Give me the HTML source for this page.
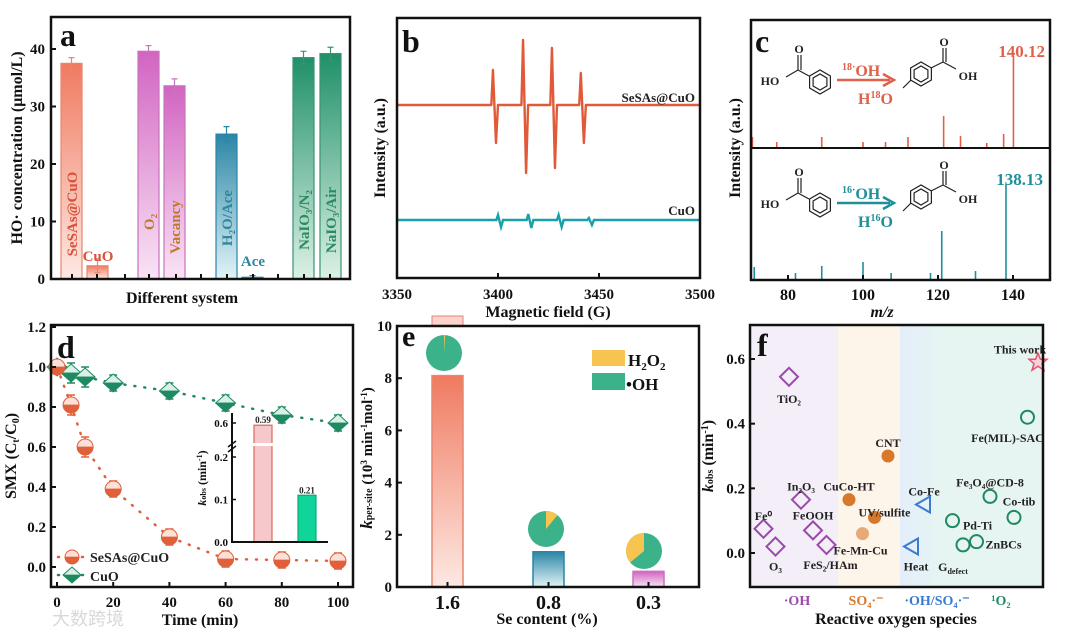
<!DOCTYPE html>
<html><head><meta charset="utf-8"><style>
html,body{margin:0;padding:0;background:#fff;}
svg{display:block;font-family:"Liberation Serif","Noto Serif CJK SC",serif;font-weight:bold;}
</style></head><body>
<svg id="fig" width="1067" height="639" viewBox="0 0 1067 639" xmlns="http://www.w3.org/2000/svg">
<defs>
<linearGradient id="gRed" x1="0" y1="0" x2="0" y2="1"><stop offset="0" stop-color="#f07a60"/><stop offset="1" stop-color="#fde9e3"/></linearGradient>
<linearGradient id="gPur" x1="0" y1="0" x2="0" y2="1"><stop offset="0" stop-color="#d264c2"/><stop offset="1" stop-color="#f9e4f4"/></linearGradient>
<linearGradient id="gTeal" x1="0" y1="0" x2="0" y2="1"><stop offset="0" stop-color="#2a86a6"/><stop offset="1" stop-color="#e2f3f7"/></linearGradient>
<linearGradient id="gGrn" x1="0" y1="0" x2="0" y2="1"><stop offset="0" stop-color="#1f9068"/><stop offset="1" stop-color="#dcf1e6"/></linearGradient>
<linearGradient id="gRedM" x1="0" y1="0" x2="0" y2="1"><stop offset="0.45" stop-color="#fde0d8"/><stop offset="0.5" stop-color="#e0603a"/></linearGradient>
<linearGradient id="gGrnM" x1="0" y1="0" x2="0" y2="1"><stop offset="0.45" stop-color="#d8f0e6"/><stop offset="0.5" stop-color="#1f8a62"/></linearGradient>
<linearGradient id="gBlueF" x1="0" y1="0" x2="1" y2="0"><stop offset="0" stop-color="#e4eefa"/><stop offset="1" stop-color="#e6f5f1"/></linearGradient>
</defs>
<g id="root"></g>
</svg>
<script>
// ---------- Panel a data ----------
const aCats = ['SeSAs@CuO','CuO','O2','Vacancy','H2O/Ace','Ace','NaIO3/N2','NaIO3/Air'];
const aVals = [37.5, 2.3, 39.6, 33.6, 25.2, 0.3, 38.5, 39.2];
const aErrs = [1.0, 1.2, 1.0, 1.2, 1.3, 0.3, 1.1, 1.1];
const aTicks = [0, 10, 20, 30, 40];
// ---------- Panel b data ----------
const bPeaksRed = [3397.5, 3412.4, 3426.7, 3441.0];
const bUpRed = [35, 65, 57, 32];
const bDownRed = [-38, -68, -63, -38];
const bPeaksCyan = [3400, 3415, 3430, 3445];
const bUpCyan = [5, 6, 5, 2];
const bDownCyan = [-7, -8, -7, -5];
const bTicks = [3350, 3400, 3450, 3500];
// ---------- Panel c data ----------
const cTopMz = [70.5, 77, 89, 100, 106, 112, 121.5, 126, 133, 137.5, 140.12];
const cTopI = [10, 5, 10, 5, 5, 10, 31, 11, 4, 13, 91];
const cBotMz = [71, 82, 89, 100, 107.5, 118, 121, 130, 138.13];
const cBotI = [13, 7, 14, 18, 7, 7, 49, 9, 96];
const cTicks = [80, 100, 120, 140];
// ---------- Panel d data ----------
const dTime = [0, 5, 10, 20, 40, 60, 80, 100];
const dSeSAs = [1.0, 0.81, 0.60, 0.39, 0.15, 0.04, 0.035, 0.03];
const dCuO = [1.0, 0.97, 0.95, 0.92, 0.88, 0.82, 0.76, 0.72];
const dErr = [0.02, 0.05, 0.05, 0.04, 0.04, 0.04, 0.04, 0.04];
const dYTicks = [0, 0.2, 0.4, 0.6, 0.8, 1.0, 1.2];
const dXTicks = [0, 20, 40, 60, 80, 100];
const insetVals = [0.59, 0.11];
const insetLabels = ['0.59', '0.21'];
// ---------- Panel e data ----------
const eCats = ['1.6', '0.8', '0.3'];
const eVals = [8.1, 1.35, 0.6];
const eH2O2 = [0.01, 0.11, 0.36];
const eTicks = [0, 2, 4, 6, 8, 10];
// ---------- Panel f data ----------
const fNames = ['TiO2','In2O3','Fe0','O3','FeOOH','FeS2/HAm','CuCo-HT','CNT','UV/sulfite','Fe-Mn-Cu','Co-Fe','Heat','Pd-Ti','Gdefect','ZnBCs','Fe3O4@CD-8','Co-tib','Fe(MIL)-SAC','This work'];
const fPos = [1.3, 1.7, 0.45, 0.85, 2.1, 2.55, 3.3, 4.6, 4.15, 3.75, 5.8, 5.4, 6.75, 7.1, 7.55, 8.0, 8.8, 9.25, 9.6];
const fK = [0.545, 0.165, 0.075, 0.02, 0.07, 0.025, 0.165, 0.30, 0.11, 0.06, 0.15, 0.02, 0.10, 0.025, 0.035, 0.175, 0.11, 0.42, 0.59];
const fType = ['d','d','d','d','d','d','o','o','o','o','t','t','c','c','c','c','c','c','s'];
const fYTicks = [0.0, 0.2, 0.4, 0.6];

const NS = 'http://www.w3.org/2000/svg';
const root = document.getElementById('root');
function el(tag, attrs, parent){ const e=document.createElementNS(NS,tag); for(const k in attrs) e.setAttribute(k,attrs[k]); (parent||root).appendChild(e); return e; }
function txt(s, x, y, size, fill, anchor, parent, extra){ const t=el('text',Object.assign({x:x,y:y,'font-size':size,fill:fill||'#111','text-anchor':anchor||'middle'},extra||{}),parent); t.textContent=s; return t; }

// ================= Panel a =================
const ga = el('g',{});


const aX0=51, aX1=350, aYt=17, aYb=279;
const aY = v => 279 - v*5.75;
const aBarX = [61, 87, 138, 164, 216, 242, 293, 320];
const aFill = ['url(#gRed)','url(#gRed)','url(#gPur)','url(#gPur)','url(#gTeal)','url(#gTeal)','url(#gGrn)','url(#gGrn)'];
const aStroke = ['#e8866e','#e8866e','#c873bd','#c873bd','#2a86a6','#2a86a6','#3a9470','#3a9470'];
aVals.forEach((v,i)=>{
  const r = el('rect',{x:aBarX[i],y:aY(v),width:21,height:aY(0)-aY(v),fill:aFill[i],stroke:aStroke[i],'stroke-width':1.2},ga);
  
  
  const cx=aBarX[i]+10.5;
  const eb = el('path',{d:`M${cx} ${aY(v+aErrs[i])}V${aY(v-aErrs[i])}M${cx-3} ${aY(v+aErrs[i])}H${cx+3}M${cx-3} ${aY(v-aErrs[i])}H${cx+3}`,stroke:aStroke[i],'stroke-width':1.2,fill:'none'},ga);
  
  
});
const aBox = el('rect',{x:aX0,y:aYt,width:aX1-aX0,height:aYb-aYt,fill:'none',stroke:'#111','stroke-width':2.5},ga);


aTicks.forEach(t=>{
  const l=el('line',{x1:aX0,x2:aX0+5,y1:aY(t),y2:aY(t),stroke:'#111','stroke-width':2},ga);
  
  
  const tl=txt(String(t),45,aY(t)+5,15,'#111','end',ga);
  
  
});
[72,97,125,149,176,201,227,253,278,304,330].forEach(x=>{ el('line',{x1:x,x2:x,y1:aYb,y2:aYb-5,stroke:'#111','stroke-width':2},ga); });
const aInLab=[['SeSAs@CuO',72,214,'#d8513a',true],['CuO',98,261,'#d8513a',false],['O₂',149,222,'#c0782c',true],['Vacancy',175,227,'#c0782c',true],['H₂O/Ace',227,218,'#2e86a0',true],['Ace',253,266,'#2e86a0',false],['NaIO₃/N₂',304,220,'#2a8a60',true],['NaIO₃/Air',331,220,'#2a8a60',true]];
aInLab.forEach(L=>{
  const t = L[4] ? txt(L[0],0,0,15,L[3],'middle',ga,{transform:`translate(${L[1]+5},${L[2]}) rotate(-90)`}) : txt(L[0],L[1],L[2],15,L[3],'middle',ga);
  
  
});
const aLetter=txt('a',60,46,32,'#111','start',ga);  
const aYT=txt('HO· concentration (μmol/L)',0,0,16,'#111','middle',ga,{transform:'translate(22,148) rotate(-90)'});
 
const aXT=txt('Different system',182,303,16,'#111','middle',ga);
 

// ================= Panel b =================
const gb = el('g',{});


const bX = f => 397 + (f-3350)*303/150;
function eprPath(peaks, ups, downs, base){
  let d=`M${bX(3350)} ${base}`;
  peaks.forEach((p,i)=>{
    d+=`L${bX(p-0.8)} ${base}L${bX(p)} ${base-ups[i]}L${bX(p+1.5)} ${base-downs[i]}L${bX(p+2.5)} ${base}`;
  });
  d+=`L${bX(3500)} ${base}`;
  return d;
}
const bRed=el('path',{d:eprPath(bPeaksRed,bUpRed,bDownRed,105),stroke:'#e05a3a','stroke-width':2.4,fill:'none','stroke-linejoin':'round'},gb);
 
const bCy=el('path',{d:eprPath(bPeaksCyan,bUpCyan,bDownCyan,220),stroke:'#1aa0a8','stroke-width':2.4,fill:'none'},gb);
 
const bBox=el('rect',{x:397,y:18,width:303,height:260,fill:'none',stroke:'#111','stroke-width':2.5},gb);
 
bTicks.forEach(t=>{
  el('line',{x1:bX(t),x2:bX(t),y1:278,y2:273,stroke:'#111','stroke-width':2},gb);
  const tl=txt(String(t),bX(t),299,15,'#111','middle',gb);
   
});
const bl1=txt('SeSAs@CuO',695,102,13,'#222','end',gb);  
const bl2=txt('CuO',695,215,13,'#222','end',gb);  
const bLetter=txt('b',402,52,32,'#111','start',gb);  
const bYT=txt('Intensity (a.u.)',0,0,16,'#111','middle',gb,{transform:'translate(385,148) rotate(-90)'});  
const bXT=txt('Magnetic field (G)',548,317,16,'#111','middle',gb);  

// ================= Panel c =================
const gc = el('g',{});


const cX = m => 788 + (m-80)*3.75;
function spectrum(mz, I, base, h, color, name){
  mz.forEach((m,i)=>{
    const l=el('line',{x1:cX(m),x2:cX(m),y1:base,y2:base-I[i]*h/100,stroke:color,'stroke-width':1.6},gc);
    
    
  });
}
spectrum(cTopMz,cTopI,147,100,'#e0604a','ms-peak-18o');
spectrum(cBotMz,cBotI,280,100,'#1e8f9a','ms-peak-16o');
const cBox=el('rect',{x:751,y:20,width:299,height:260,fill:'none',stroke:'#111','stroke-width':2.5},gc);
 
const cDiv=el('line',{x1:751,x2:1050,y1:148,y2:148,stroke:'#111','stroke-width':2},gc);
 
cTicks.forEach(t=>{
  el('line',{x1:cX(t),x2:cX(t),y1:280,y2:275,stroke:'#111','stroke-width':2},gc);
  const tl=txt(String(t),cX(t),300,16,'#111','middle',gc);  
});
function hexPath(cx,cy,r){ let d=''; for(let k=0;k<6;k++){const a=Math.PI/6+k*Math.PI/3; d+=(k?'L':'M')+(cx+r*Math.cos(a)).toFixed(1)+' '+(cy+r*Math.sin(a)).toFixed(1);} return d+'Z'; }
function scheme(dy, color, iso){
  const g=el('g',{transform:`translate(0,${dy})`},gc);
  
  
  el('path',{d:hexPath(820,82,12)+hexPath(820,82,8)+'M798 70L809 76M798 70L798 55M801 70L801 55M798 70L786 77',stroke:'#222','stroke-width':1.2,fill:'none'},g);
  txt('O',799,53,12,'#222','middle',g); txt('HO',770,85,12,'#222','middle',g);
  el('path',{d:hexPath(921,74,12)+hexPath(921,74,8)+'M931 68L943 62M943 62L943 48M946 62L946 48M943 62L956 69M911 80L903 88',stroke:'#222','stroke-width':1.2,fill:'none'},g);
  txt('O',944,46,12,'#222','middle',g); txt('OH',968,80,12,'#222','middle',g);
  const ar=el('path',{d:'M837 80H890M883 74L894 80L883 86',stroke:color,'stroke-width':2.5,fill:'none'},g);
   
  const t1=el('text',{x:842,y:76,'font-size':16,fill:color},g); t1.innerHTML=`<tspan font-size="10" dy="-6">${iso}·</tspan><tspan dy="6">OH</tspan>`;
  const t2=el('text',{x:858,y:104,'font-size':16,fill:color},g); t2.innerHTML=`H<tspan font-size="10" dy="-6">${iso}</tspan><tspan dy="6">O</tspan>`;
}
scheme(0,'#e0604a','18'); scheme(123,'#1e8f9a','16');
const cp1=txt('140.12',1045,57,17,'#e0604a','end',gc);  
const cp2=txt('138.13',1043,185,17,'#1e8f9a','end',gc);  
const cLetter=txt('c',755,52,32,'#111','start',gc);  
const cYT=txt('Intensity (a.u.)',0,0,16,'#111','middle',gc,{transform:'translate(740,148) rotate(-90)'});  
const cXT=txt('m/z',882,317,16,'#111','middle',gc,{'font-style':'italic'});  

// ================= Panel d =================
const gd = el('g',{});


const dX = t => 57 + t*2.81;
const dY = v => 567 - v*200;
function dSeries(vals, color, grad, marker, name){
  const pts=dTime.map((t,i)=>`${dX(t)},${dY(vals[i])}`).join(' ');
  const pl=el('polyline',{points:pts,fill:'none',stroke:color,'stroke-width':2.5,'stroke-dasharray':'1 9','stroke-linecap':'round'},gd);
   
  dTime.forEach((t,i)=>{
    const x=dX(t), y=dY(vals[i]), e=dErr[i]*200;
    el('path',{d:`M${x} ${y-e}V${y+e}M${x-4} ${y-e}H${x+4}M${x-4} ${y+e}H${x+4}`,stroke:color,'stroke-width':1.5,fill:'none'},gd);
    let m;
    if(marker==='c') m=el('circle',{cx:x,cy:y,r:8,fill:grad,stroke:color,'stroke-width':1},gd);
    else m=el('path',{d:`M${x} ${y-9}L${x+10} ${y}L${x} ${y+9}L${x-10} ${y}Z`,fill:grad,stroke:color,'stroke-width':1},gd);
    
    
  });
}
dSeries(dCuO,'#1f8a62','url(#gGrnM)','d','cuo');
dSeries(dSeSAs,'#e0603a','url(#gRedM)','c','sesas-cuo');
const dBox=el('rect',{x:51,y:325,width:302,height:262,fill:'none',stroke:'#111','stroke-width':2.5},gd);
 
dYTicks.forEach(t=>{
  el('line',{x1:51,x2:56,y1:dY(t),y2:dY(t),stroke:'#111','stroke-width':2},gd);
  const tl=txt(t.toFixed(1),46,dY(t)+5,15,'#111','end',gd);  
});
dXTicks.forEach(t=>{
  el('line',{x1:dX(t),x2:dX(t),y1:587,y2:582,stroke:'#111','stroke-width':2},gd);
  const tl=txt(String(t),dX(t),607,15,'#111','middle',gd);  
});
// legend
const lg=el('g',{},gd);  
el('line',{x1:58,x2:86,y1:557,y2:557,stroke:'#e0603a','stroke-width':2.5,'stroke-dasharray':'1 7','stroke-linecap':'round'},lg);
el('circle',{cx:72,cy:557,r:7,fill:'url(#gRedM)',stroke:'#e0603a'},lg);
const lt1=txt('SeSAs@CuO',90,562,14,'#222','start',lg);  
el('line',{x1:58,x2:86,y1:575,y2:575,stroke:'#1f8a62','stroke-width':2.5,'stroke-dasharray':'1 7','stroke-linecap':'round'},lg);
el('path',{d:'M72 567L81 575L72 583L63 575Z',fill:'url(#gGrnM)',stroke:'#1f8a62'},lg);
const lt2=txt('CuO',90,581,14,'#222','start',lg);  
// inset
const gi=el('g',{},gd);  
const iY = v => v<=0.25 ? 542 - v*425 : 423 + (0.6-v)*220;
const iX=[254,298];
const iFill=['#f6c8cc','#10d49a'], iStroke=['#d86a5a','#0fa878'];
insetVals.forEach((v,i)=>{
  const r=el('rect',{x:iX[i],y:iY(v),width:18,height:542-iY(v),fill:iFill[i],stroke:iStroke[i],'stroke-width':1.2},gi);
   
  const t=txt(insetLabels[i],iX[i]+9,iY(v)-2,9,'#222','middle',gi);  
});
el('rect',{x:250,y:443,width:26,height:3,fill:'#fff'},gi);
el('path',{d:'M232 413V542H328',stroke:'#111','stroke-width':2,fill:'none'},gi);
el('path',{d:'M228 447L236 441M228 452L236 446',stroke:'#111','stroke-width':1.5},gi);
[[0.6,'0.6'],[0.2,'0.2'],[0.1,'0.1'],[0,'0.0']].forEach(p=>{
  const y=p[0]===0.6?423:(p[0]===0.2?457:iY(p[0]));
  el('line',{x1:232,x2:236,y1:y,y2:y,stroke:'#111','stroke-width':1.5},gi);
  const t=txt(p[1],228,y+4,11,'#111','end',gi);  
});
const iT=el('text',{'font-size':12,fill:'#111','text-anchor':'middle',transform:'translate(206,478) rotate(-90)'},gi);
iT.innerHTML='<tspan font-style="italic">k</tspan><tspan font-size="8">obs</tspan> (min<tspan font-size="8" dy="-4">-1</tspan><tspan dy="4">)</tspan>';
 
const dLetter=txt('d',57,358,32,'#111','start',gd);  
const dYT=el('text',{'font-size':16,fill:'#111','text-anchor':'middle',transform:'translate(16,456) rotate(-90)'},gd);
dYT.innerHTML='SMX (C<tspan font-size="10" dy="3">t</tspan><tspan dy="-3">/C</tspan><tspan font-size="10" dy="3">0</tspan><tspan dy="-3">)</tspan>';
 
const dXT=txt('Time (min)',200,625,16,'#111','middle',gd);  
const wm=txt('大数跨境',52,625,18,'#d8d8d8','start',gd,{'font-family':'"Noto Sans CJK SC",sans-serif','font-weight':'normal'});
 

// ================= Panel e =================
const ge = el('g',{});


const eY = v => 587 - v*26.1;
const eBarX=[432,533,633];
const eFill=['url(#gRed)','url(#gTeal)','url(#gPur)'], eStroke=['#e8866e','#2a86a6','#c873bd'];
const ghost=el('rect',{x:432,y:316,width:31,height:10,fill:'#fbd3cc',stroke:'#e8866e'},ge);
 
eVals.forEach((v,i)=>{
  const r=el('rect',{x:eBarX[i],y:eY(v),width:31,height:eY(0)-eY(v),fill:eFill[i],stroke:eStroke[i],'stroke-width':1.5},ge);
   
});
const pieC=[[444,353],[546,529],[644,551]];
function pie(cx,cy,r,frac,dir,name){
  const c=el('circle',{cx:cx,cy:cy,r:r,fill:'#3cb28a'},ge);
   
  const a=2*Math.PI*frac*dir;
  const x=cx+r*Math.sin(a), y=cy-r*Math.cos(a);
  const w=el('path',{d:`M${cx} ${cy}L${cx} ${cy-r}A${r} ${r} 0 ${frac>0.5?1:0} ${dir>0?1:0} ${x.toFixed(1)} ${y.toFixed(1)}Z`,fill:'#f8c450'},ge);
   
}
eH2O2.forEach((f,i)=>pie(pieC[i][0],pieC[i][1],18,f,i===2?-1:1,eCats[i]));
const eBox=el('rect',{x:397,y:326,width:302,height:261,fill:'none',stroke:'#111','stroke-width':2.5},ge);
 
eTicks.forEach(t=>{
  el('line',{x1:397,x2:402,y1:eY(t),y2:eY(t),stroke:'#111','stroke-width':2},ge);
  const tl=txt(String(t),392,eY(t)+5,15,'#111','end',ge);  
});
eCats.forEach((c,i)=>{
  el('line',{x1:eBarX[i]+15.5,x2:eBarX[i]+15.5,y1:587,y2:582,stroke:'#111','stroke-width':2},ge);
  const tl=txt(c,eBarX[i]+15.5,609,20,'#111','middle',ge);  
});
const el1=el('rect',{x:592,y:350,width:33,height:16,fill:'#f8c450'},ge);  
const el2=el('rect',{x:592,y:373,width:33,height:17,fill:'#3cb28a'},ge);  
const elt1=el('text',{x:628,y:366,'font-size':17,fill:'#111'},ge); elt1.innerHTML='H<tspan font-size="11" dy="4">2</tspan><tspan dy="-4">O</tspan><tspan font-size="11" dy="4">2</tspan>';
 
const elt2=txt('•OH',626,390,17,'#111','start',ge);  
const eLetter=txt('e',402,346,30,'#111','start',ge);  
const eYT=el('text',{'font-size':15,fill:'#111','text-anchor':'middle',transform:'translate(372,458) rotate(-90)'},ge);
eYT.innerHTML='<tspan font-style="italic" font-size="17">k</tspan><tspan font-size="10">per-site</tspan> (10<tspan font-size="9" dy="-5">3</tspan><tspan dy="5"> min</tspan><tspan font-size="9" dy="-5">-1</tspan><tspan dy="5">mol</tspan><tspan font-size="9" dy="-5">-1</tspan><tspan dy="5">)</tspan>';
 
const eXT=txt('Se content (%)',547,624,16,'#111','middle',ge);  

// ================= Panel f =================
const gf = el('g',{});


const fX = p => 750 + p*30;
const fY = v => 553 - v*323.3;
const bg1=el('rect',{x:750,y:325,width:88,height:262,fill:'#f3eef7'},gf);  
const bg2=el('rect',{x:838,y:325,width:62,height:262,fill:'#fdf4ea'},gf);  
const bg3=el('rect',{x:900,y:325,width:45,height:262,fill:'url(#gBlueF)'},gf);  
const bg4=el('rect',{x:945,y:325,width:98,height:262,fill:'#e6f5f1'},gf);  
const fCol={d:'#9a4aaa',o:'#d8782a',t:'#3a7ad0',c:'#1f8a62',s:'#e8506a'};
const fLabOff={'TiO2':[0,22],'In2O3':[0,-13],'Fe0':[0,-13],'O3':[0,20],'FeOOH':[0,-15],'FeS2/HAm':[4,20],'CuCo-HT':[0,-13],'CNT':[0,-13],'UV/sulfite':[10,-5],'Fe-Mn-Cu':[-2,17],'Co-Fe':[0,-13],'Heat':[4,20],'Pd-Ti':[25,5],'Gdefect':[0,22],'ZnBCs':[27,3],'Fe3O4@CD-8':[0,-14],'Co-tib':[5,-16],'Fe(MIL)-SAC':[-20,21],'This work':[-18,-13]};
const fLabTxt={'TiO2':'TiO₂','In2O3':'In₂O₃','Fe0':'Fe⁰','O3':'O₃','FeS2/HAm':'FeS₂/HAm','Fe3O4@CD-8':'Fe₃O₄@CD-8'};
fNames.forEach((n,i)=>{
  const x=fX(fPos[i]), y=fY(fK[i]), c=fCol[fType[i]];
  let m;
  if(fType[i]==='d') m=el('path',{d:`M${x} ${y-9}L${x+9} ${y}L${x} ${y+9}L${x-9} ${y}Z`,fill:'none',stroke:c,'stroke-width':2},gf);
  else if(fType[i]==='o') m=el('circle',{cx:x,cy:y,r:6.5,fill:'#d8782a',opacity:n==='Fe-Mn-Cu'?0.6:1},gf);
  else if(fType[i]==='t') m=el('path',{d:`M${x+6} ${y-8}V${y+8}L${x-8} ${y}Z`,fill:'none',stroke:c,'stroke-width':2},gf);
  else if(fType[i]==='c') m=el('circle',{cx:x,cy:y,r:6.5,fill:'none',stroke:c,'stroke-width':2},gf);
  else m=el('path',{d:`M${x} ${y-9}L${x+2.5} ${y-3}L${x+9} ${y-3}L${x+4} ${y+1.5}L${x+6} ${y+8}L${x} ${y+4}L${x-6} ${y+8}L${x-4} ${y+1.5}L${x-9} ${y-3}L${x-2.5} ${y-3}Z`,fill:'#fbd0d8',stroke:c,'stroke-width':1.5},gf);
  
  
  const o=fLabOff[n];
  let t;
  if(n==='Gdefect'){ t=el('text',{x:x+o[0]-10,y:y+o[1]+4,'font-size':12,fill:'#222','text-anchor':'middle'},gf); t.innerHTML='G<tspan font-size="8" dy="3">defect</tspan>'; }
  else t=txt(fLabTxt[n]||n,x+o[0],y+o[1]+4,12,'#222','middle',gf);
  
  
});
const fBox=el('rect',{x:750,y:325,width:293,height:262,fill:'none',stroke:'#111','stroke-width':2.5},gf);
 
fYTicks.forEach(t=>{
  el('line',{x1:750,x2:755,y1:fY(t),y2:fY(t),stroke:'#111','stroke-width':2},gf);
  const tl=txt(t.toFixed(1),745,fY(t)+5,15,'#111','end',gf);  
});
[['·OH',797,'#9a4aaa'],['SO₄·⁻',866,'#d8782a'],['·OH/SO₄·⁻',937,'#3a7ad0'],['¹O₂',1001,'#1f8a62']].forEach(c=>{
  const t=txt(c[0],c[1],605,14,c[2],'middle',gf);  
});
const fLetter=txt('f',757,356,32,'#111','start',gf);  
const fYT=el('text',{'font-size':16,fill:'#111','text-anchor':'middle',transform:'translate(713,456) rotate(-90)'},gf);
fYT.innerHTML='<tspan font-style="italic">k</tspan><tspan font-size="10">obs</tspan> (min<tspan font-size="10" dy="-5">-1</tspan><tspan dy="5">)</tspan>';
 
const fXT=txt('Reactive oxygen species',896,624,16,'#111','middle',gf);  
</script>
</body></html>
